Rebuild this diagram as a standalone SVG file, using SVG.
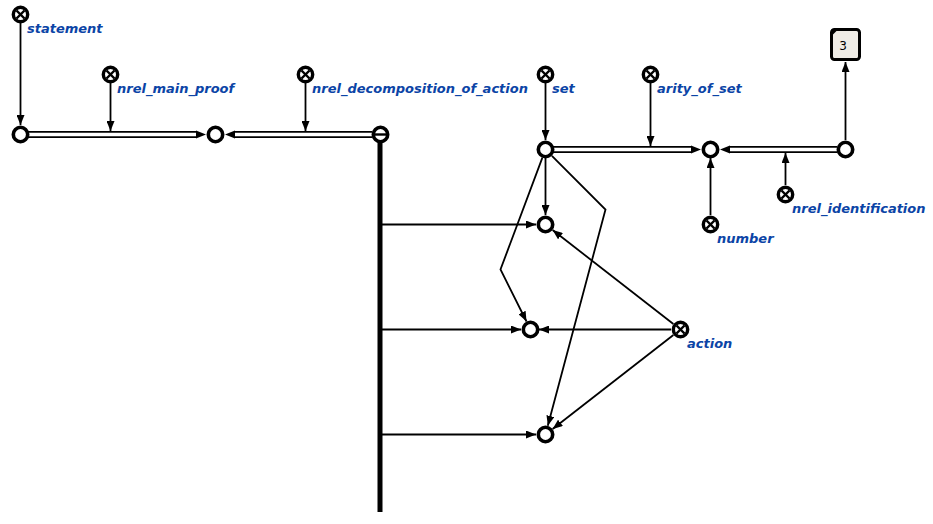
<svg xmlns="http://www.w3.org/2000/svg" width="933" height="524" viewBox="0 0 933 524">
  <style>
    .lbl { font-family: "DejaVu Sans", "Noto Sans", sans-serif; font-size: 13px; font-weight: bold; font-style: italic; fill: #0b44a6; }
    .node { fill: #ffffff; stroke: #000000; stroke-width: 3.6; }
    .cls { fill: #ffffff; stroke: #000000; stroke-width: 3.4; }
    .cross { stroke: #000000; stroke-width: 2.4; }
    .arc { fill: none; stroke: #000000; stroke-width: 1.8; }
    .common-out { fill: none; stroke: #000000; stroke-width: 7; }
    .common-in { fill: none; stroke: #ffffff; stroke-width: 3.4; }
    .head { fill: #000000; }
    .bus { stroke: #000000; stroke-width: 5; }
    .link { fill: #efece6; stroke: #000000; stroke-width: 3; }
    .num { font-family: "DejaVu Sans", sans-serif; font-size: 12px; fill: #000000; }
  </style>
  <defs>
    <marker id="arrow" markerUnits="userSpaceOnUse" markerWidth="10" markerHeight="8" viewBox="0 0 10 8" refX="10" refY="4" orient="auto">
      <path d="M0,0 L10,4 L0,8 z" fill="#000000"/>
    </marker>
    <g id="classNode">
      <circle r="7.2" class="cls"/>
      <line x1="-4" y1="-4" x2="4" y2="4" class="cross"/>
      <line x1="-4" y1="4" x2="4" y2="-4" class="cross"/>
    </g>
  </defs>

  <!-- connectors -->
  <g id="connectors">
    <!-- bus -->
    <line x1="380" y1="134" x2="380" y2="512" class="bus"/>

    <!-- common arcs (double line) -->
    <path d="M28,134.5 H197" class="common-out"/>
    <path d="M28,134.5 H197" class="common-in"/>
    <polygon points="196,130.5 206,134.5 196,138.5" class="head"/>

    <path d="M372,134.5 H234" class="common-out"/>
    <path d="M372,134.5 H234" class="common-in"/>
    <polygon points="235,130.5 225,134.5 235,138.5" class="head"/>

    <path d="M553,149.5 H692" class="common-out"/>
    <path d="M553,149.5 H692" class="common-in"/>
    <polygon points="691,145.5 701,149.5 691,153.5" class="head"/>

    <path d="M837,149.5 H729" class="common-out"/>
    <path d="M837,149.5 H729" class="common-in"/>
    <polygon points="730,145.5 720,149.5 730,153.5" class="head"/>

    <!-- role / relation arcs -->
    <line x1="20.5" y1="23" x2="20.5" y2="125" class="arc" marker-end="url(#arrow)"/>
    <line x1="110.5" y1="83" x2="110.5" y2="131" class="arc" marker-end="url(#arrow)"/>
    <line x1="305.5" y1="83" x2="305.5" y2="131" class="arc" marker-end="url(#arrow)"/>
    <line x1="545.5" y1="83" x2="545.5" y2="140" class="arc" marker-end="url(#arrow)"/>
    <line x1="650.5" y1="83" x2="650.5" y2="146" class="arc" marker-end="url(#arrow)"/>
    <line x1="710.5" y1="215" x2="710.5" y2="158" class="arc" marker-end="url(#arrow)"/>
    <line x1="785.5" y1="185" x2="785.5" y2="153" class="arc" marker-end="url(#arrow)"/>
    <line x1="845.5" y1="140" x2="845.5" y2="62" class="arc" marker-end="url(#arrow)"/>

    <!-- set elements -->
    <line x1="545.5" y1="158" x2="545.5" y2="215" class="arc" marker-end="url(#arrow)"/>
    <polyline points="542.3,157.9 500.5,269.5 526.5,321.5" class="arc" marker-end="url(#arrow)"/>
    <polyline points="551.9,155.9 605.5,209.5 547.8,425.8" class="arc" marker-end="url(#arrow)"/>

    <!-- decomposition parts -->
    <line x1="382" y1="224.5" x2="536" y2="224.5" class="arc" marker-end="url(#arrow)"/>
    <line x1="382" y1="329.5" x2="521" y2="329.5" class="arc" marker-end="url(#arrow)"/>
    <line x1="382" y1="434.5" x2="536" y2="434.5" class="arc" marker-end="url(#arrow)"/>

    <!-- action class membership -->
    <line x1="673.4" y1="324" x2="552.6" y2="230" class="arc" marker-end="url(#arrow)"/>
    <line x1="671" y1="329.5" x2="539" y2="329.5" class="arc" marker-end="url(#arrow)"/>
    <line x1="673.4" y1="335" x2="552.6" y2="429" class="arc" marker-end="url(#arrow)"/>
  </g>

  <!-- nodes -->
  <g id="statement"><use href="#classNode" x="20.5" y="14.5"/><text x="27" y="33" class="lbl">statement</text></g>
  <g id="nrel_main_proof"><use href="#classNode" x="110.5" y="74.5"/><text x="117" y="93" class="lbl">nrel_main_proof</text></g>
  <g id="nrel_decomposition_of_action"><use href="#classNode" x="305.5" y="74.5"/><text x="312" y="93" class="lbl">nrel_decomposition_of_action</text></g>
  <g id="set"><use href="#classNode" x="545.5" y="74.5"/><text x="552" y="93" class="lbl">set</text></g>
  <g id="arity_of_set"><use href="#classNode" x="650.5" y="74.5"/><text x="657" y="93" class="lbl">arity_of_set</text></g>
  <g id="nrel_identification"><use href="#classNode" x="785.5" y="194.5"/><text x="792" y="213" class="lbl">nrel_identification</text></g>
  <g id="number"><use href="#classNode" x="710.5" y="224.5"/><text x="717" y="243" class="lbl">number</text></g>
  <g id="action"><use href="#classNode" x="680.5" y="329.5"/><text x="687" y="348" class="lbl">action</text></g>

  <g id="node_statement_instance"><circle cx="20.5" cy="134.5" r="7.2" class="node"/></g>
  <g id="node_proof"><circle cx="215.5" cy="134.5" r="7.2" class="node"/></g>
  <g id="node_decomposition">
    <circle cx="380.5" cy="134.5" r="7.2" class="node"/>
    <line x1="374" y1="134.5" x2="387" y2="134.5" stroke="#000000" stroke-width="2.4"/>
  </g>
  <g id="node_set_instance"><circle cx="545.5" cy="149.5" r="7.2" class="node"/></g>
  <g id="node_arity"><circle cx="710.5" cy="149.5" r="7.2" class="node"/></g>
  <g id="node_identifier"><circle cx="845.5" cy="149.5" r="7.2" class="node"/></g>
  <g id="node_part1"><circle cx="545.5" cy="224.5" r="7.2" class="node"/></g>
  <g id="node_part2"><circle cx="530.5" cy="329.5" r="7.2" class="node"/></g>
  <g id="node_part3"><circle cx="545.5" cy="434.5" r="7.2" class="node"/></g>

  <g id="link_3">
    <rect x="831.5" y="29.5" width="28" height="30" rx="3" class="link"/>
    <polygon points="831.5,29.5 838,29.5 831.5,36" fill="#000000"/>
    <text x="843" y="50" class="num" text-anchor="middle">3</text>
  </g>
</svg>
